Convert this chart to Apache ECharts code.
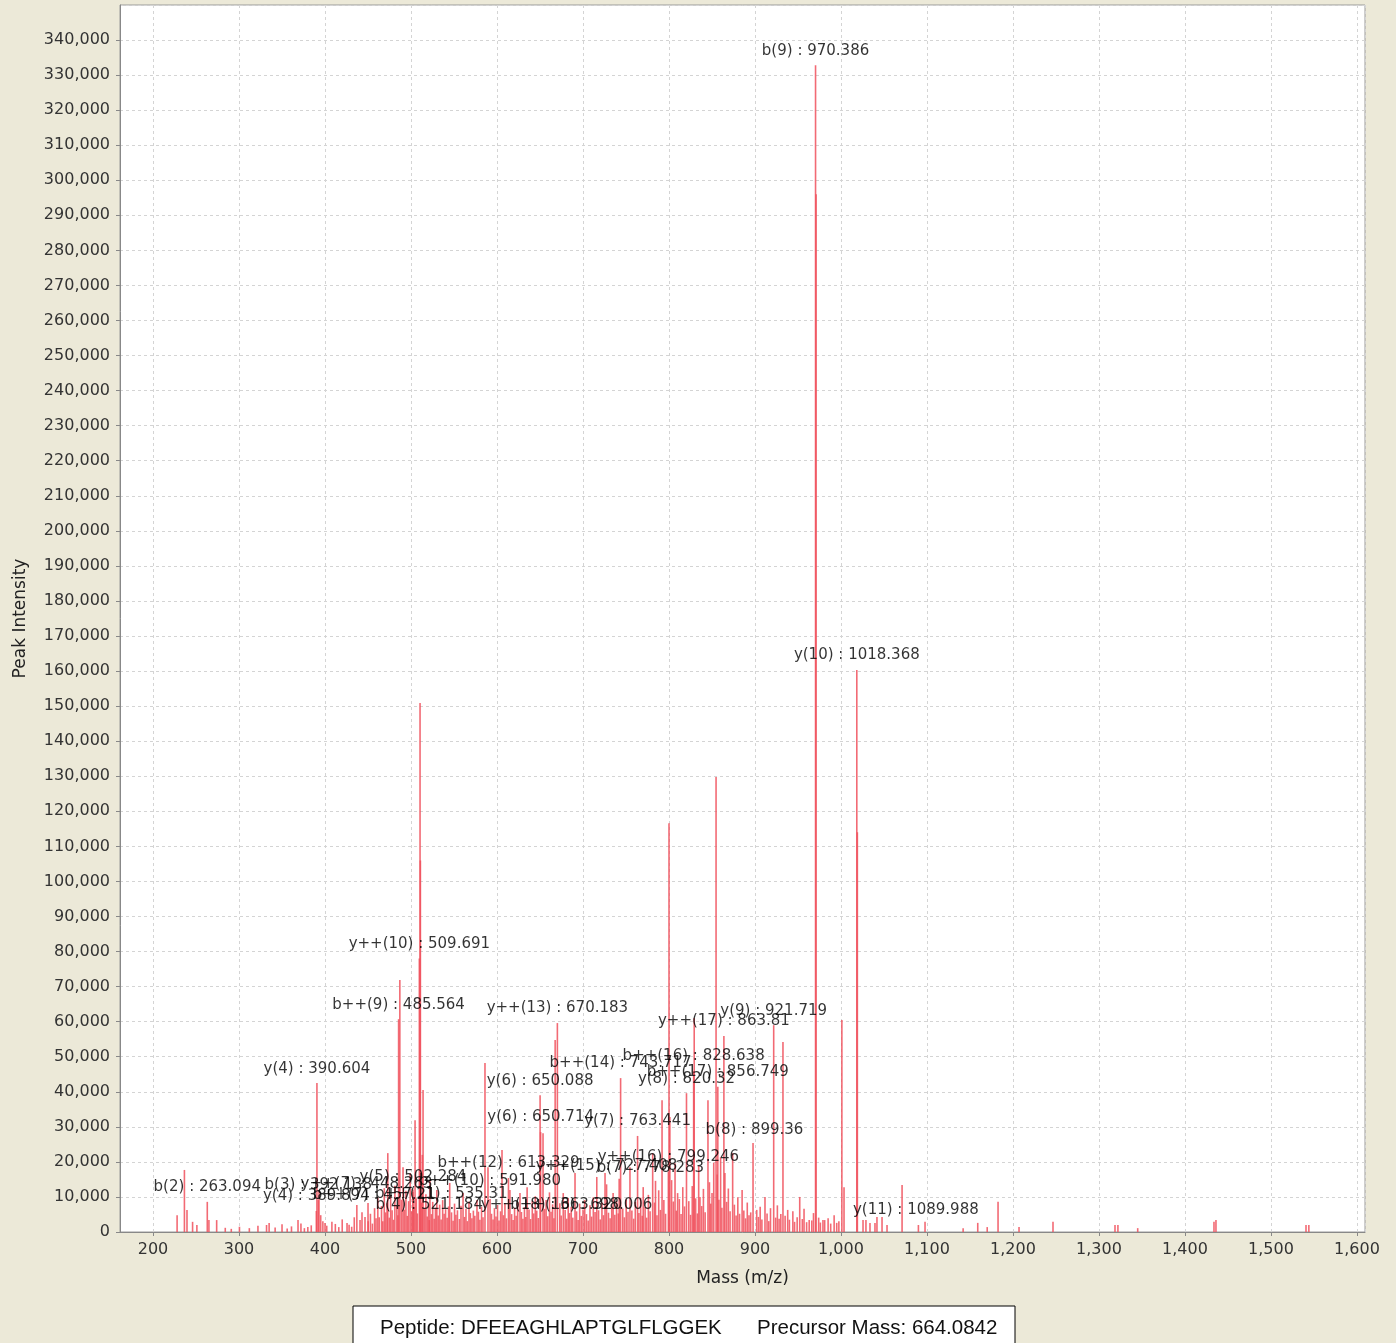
<!DOCTYPE html>
<html>
<head>
<meta charset="utf-8">
<script src="https://cdn.jsdelivr.net/npm/echarts@6/dist/echarts.min.js"></script>
<style>
html,body{margin:0;padding:0;background:#ECE9D8;}
#chart{width:1396px;height:1343px;}
</style>
</head>
<body>
<div id="chart"></div>
<script>
// ---- Data (m/z, intensity) ----
const peakMz = [228,236.5,239.5,246,251,263.1,265,274,284,291,300.5,312,322,332,335,342,350,356,361,368.6,372,376,380,384,
389.9,390.6,392.14,393,395,397.5,400,402,408,412,416,420,425.6,428,431,434,437,440.7,443,446.5,450,
473,485.56,487,490.7,499,502.28,504.7,509.69,510.5,510.9,514,521.18,522,530,545,560.5,576.7,586,589.5,605.8,615,626.7,635,
650.09,650.71,653.5,667.6,670.18,677,690.7,702,716,725.6,735,743.72,754.6,763.44,770,781,791.9,799.25,800,801,810,820.32,
828.64,829.3,836,845.3,850,854.7,856.75,863.81,865,874,885,897.7,902,911.6,921.72,932.5,938,952,963,970.39,971.0,979,981,
1001,1003.5,1018.37,1019.0,1025.6,1029,1033.7,1039.5,1041.8,1047.7,1053.5,1071,1089.99,1097.7,1142,1159,1170,1182.6,1207,
1246.5,1318.6,1322,1345,1433.7,1436,1540.7,1544];
const peakInt = [4800,17700,6300,2900,2000,8600,3400,3400,1200,900,1500,1100,1800,2000,2600,1300,2200,1000,1600,3400,2400,1100,1400,1900,
6000,42500,9100,12000,4800,3100,2600,1800,2900,2300,1400,3600,2600,2100,1500,4200,7700,3400,5600,4300,8300,
22500,60700,71900,18500,16800,11400,31900,78000,150900,106000,40500,3400,14800,12000,14000,11100,9100,48200,18500,23400,12000,11100,12800,
39000,28500,28200,54800,59600,11100,16800,9100,15700,16800,11100,43900,18500,27400,12800,22500,37600,17100,116600,32800,11100,39600,
45900,61000,10000,37600,11100,129800,41400,55900,16800,22500,12000,25400,6300,10000,59000,54200,6300,10000,3400,332800,296000,3400,3400,
60500,12800,160300,114000,3400,3400,2600,2600,4300,4300,2000,13400,2000,2900,1100,2600,1400,8600,1400,
2900,2000,2000,1100,2900,3400,2000,2000];

// dense low-intensity peaks
const minorMz = [450.2,452.8,455.1,457.6,459.3,461.4,463.0,465.7,467.2,468.9,470.5,472.1,474.8,476.3,478.0,479.6,481.2,483.5,484.7,488.9,
492.3,494.1,495.6,497.2,500.8,502.3,503.5,506.1,507.4,512.2,513.1,515.6,517.3,518.8,520.4,523.7,525.2,526.9,528.4,531.6,533.3,535.0,
536.8,538.5,540.2,542.0,543.7,547.1,548.9,550.6,552.2,554.0,556.3,558.1,562.2,563.9,565.5,567.4,569.0,570.8,572.5,574.2,578.4,580.1,
582.0,583.7,591.9,593.6,595.4,597.0,598.8,600.6,602.3,604.1,607.5,609.2,611.0,613.3,617.0,618.7,620.4,622.2,624.0,628.4,630.1,631.9,
633.5,637.2,639.0,641.0,642.7,644.5,646.2,648.0,655.3,657.1,659.0,661.0,662.8,664.6,666.2,673.0,674.6,679.2,681.0,682.8,684.5,686.3,
688.1,692.5,694.3,696.1,698.0,700.0,704.0,706.0,708.1,710.0,712.0,714.0,718.1,720.0,722.0,723.8,727.4,729.6,731.5,733.4,737.0,739.0,
741.0,742.05,746.2,748.1,750.2,752.3,756.8,758.9,760.8,765.0,767.0,768.8,772.2,774.0,776.0,778.0,783.1,784.3,786.0,788.0,790.0,794.0,
796.0,803.0,805.0,807.0,808.5,812.0,814.0,816.0,818.0,823.0,825.0,827.0,831.0,833.0,834.5,838.0,840.0,842.0,847.0,848.5,852.0,856.0,
858.0,860.0,861.5,867.0,869.0,871.0,876.0,878.0,880.0,882.0,887.0,889.0,891.0,893.0,895.0,904.0,906.0,908.0,914.0,916.0,918.0,924.0,
926.0,928.0,930.0,935.0,940.0,944.0,946.0,949.0,955.0,957.0,960.0,966.0,968.0,974.0,976.0,985.0,988.0,992.0,995.0,997.5];
const minorInt = [3100,5200,2400,6800,3900,9800,4200,7400,3100,12500,5600,8200,4100,10400,6200,3500,13200,7600,4800,9200,
6400,11800,4600,8800,5900,12100,7100,9600,5300,8400,22000,6700,10800,4400,7900,5100,8600,3800,6900,4700,7800,3600,
9100,5200,6500,4100,7300,5600,3200,8100,4900,6200,3700,7500,4300,6600,3100,8700,5400,3900,6100,4600,5800,3500,
7200,4200,9400,5200,3600,6800,4400,7700,3300,5900,4800,8300,3900,15400,5100,3400,6900,4600,8500,5700,3800,7100,
4300,6400,3700,8900,5300,10200,6100,4000,6600,9100,4500,11300,5800,7900,3900,8200,4700,6300,3800,9700,5400,7200,
4100,5900,3400,8100,4600,6400,5100,3300,7600,4400,9900,5700,6200,3600,8400,4800,13600,5500,3900,7300,4900,8800,
5300,15200,6700,4200,9300,5800,6100,3800,8600,5400,9800,4600,7100,4100,10600,5900,8400,14600,4800,11900,6300,9100,
5200,14800,8700,19600,6100,9400,5100,12800,7300,8800,4900,13100,9600,5300,18900,7400,12300,5600,14200,8100,19800,16400,
9200,21300,6900,8600,12400,5900,7800,4700,9900,5200,6100,3900,8400,4800,5600,4300,7200,3600,5300,3100,6800,4100,
7600,3800,5100,4600,3500,5900,2900,4200,3700,6600,2800,3300,5400,4100,2700,3900,2400,4800,2600,3100];

// annotations
const annoText = ["b(9) : 970.386","y(10) : 1018.368","y++(10) : 509.691","b++(9) : 485.564","y++(13) : 670.183","y(9) : 921.719",
"y++(17) : 863.81","b++(16) : 828.638","b++(14) : 743.717","b++(17) : 856.749","y(4) : 390.604","y(6) : 650.088","y(8) : 820.32",
"y(6) : 650.714","y(7) : 763.441","b(8) : 899.36","y++(16) : 799.246","b++(12) : 613.329","y++(15) : 727.408","b(7) : 778.283",
"b(2) : 263.094","b(3) : 392.138","y++(7) : 448.263","y(4) : 389.894","y(5) : 502.284","b++(10) : 591.980","b++(7) : 457.21",
"b++(11) : 535.31","b(4) : 521.184","y++(18) : 663.320","b++(13) : 698.006","y(11) : 1089.988"];
const annoMz = [970.386,1018.368,509.691,485.564,670.183,921.719,863.81,828.638,743.717,856.749,390.604,650.088,820.32,
650.714,763.441,899.36,799.246,613.329,727.408,778.283,263.094,392.138,448.263,389.894,502.284,591.980,457.21,535.31,521.184,
663.320,698.006,1087.0];
const annoInt = [332800,160300,78000,60700,59600,59000,55900,45900,43900,41400,42200,39000,39600,28500,27400,24800,17100,15400,
14600,14200,8600,9100,9400,6000,11400,10500,6400,6600,3400,3600,3400,2000];

const peakData = peakMz.map((m,i)=>[m,peakInt[i]]).concat(minorMz.map((m,i)=>[m,minorInt[i]]));
const annoData = annoText.map((t,i)=>({name:t,value:[annoMz[i],annoInt[i]]}));

const chart = echarts.init(document.getElementById('chart'), null, {renderer:'canvas'});
const tickFont = {fontFamily:'DejaVu Sans', fontSize:16, color:'#333'};
chart.setOption({
  backgroundColor:'#ECE9D8',
  animation:false,
  grid:{left:120,right:31,top:5,bottom:111,show:true,backgroundColor:'#ffffff',borderColor:'#9a9a9a',borderWidth:1,
        containLabel:false,outerBoundsMode:'none'},
  xAxis:{type:'value',min:161.6,max:1609.3,splitNumber:14,
    name:'Mass (m/z)',nameLocation:'middle',nameGap:38,
    nameTextStyle:{fontFamily:'DejaVu Sans',fontSize:17,color:'#222'},
    axisLine:{show:true,onZero:false,lineStyle:{color:'#888'}},
    axisTick:{show:true,length:4,lineStyle:{color:'#888'}},
    axisLabel:Object.assign({margin:10,showMinLabel:false,showMaxLabel:false,
      formatter:v=> (Math.abs(v%100)<1e-6 ? echarts.format.addCommas(v) : '')},tickFont),
    splitLine:{show:true,lineStyle:{color:'#d4d4d4',type:[3,3]}}
  },
  yAxis:{type:'value',min:0,max:350000,interval:10000,
    name:'Peak Intensity',nameLocation:'middle',nameGap:91,
    nameTextStyle:{fontFamily:'DejaVu Sans',fontSize:17,color:'#222'},
    axisLine:{show:true,lineStyle:{color:'#888'}},
    axisTick:{show:true,length:4,lineStyle:{color:'#888'}},
    axisLabel:Object.assign({margin:10,showMaxLabel:false},tickFont),
    splitLine:{show:true,lineStyle:{color:'#d4d4d4',type:[3,3]}}
  },
  series:[
    {type:'custom',data:peakData,clip:true,
     renderItem:function(params,api){
       const x=api.value(0), y=api.value(1);
       const p0=api.coord([x,0]), p1=api.coord([x,y]);
       return {type:'line',shape:{x1:p0[0],y1:p0[1],x2:p1[0],y2:p1[1]},
         style:{stroke:'rgba(240,80,92,0.85)',lineWidth:1.6}};
     }},
    {type:'scatter',data:annoData,symbolSize:0,silent:true,
     label:{show:true,position:'top',distance:7,formatter:p=>p.name,
       fontFamily:'DejaVu Sans',fontSize:15,color:'#000'},
     labelLayout:{hideOverlap:false}}
  ],
  graphic:[
    {type:'rect',shape:{x:353,y:1306,width:662,height:50},style:{fill:'#ffffff',stroke:'#000',lineWidth:1}},
    {type:'text',x:380,y:1328,style:{text:'Peptide: DFEEAGHLAPTGLFLGGEK',fontFamily:'Liberation Sans',fontSize:20.5,fill:'#111',textVerticalAlign:'middle'}},
    {type:'text',x:757,y:1328,style:{text:'Precursor Mass: 664.0842',fontFamily:'Liberation Sans',fontSize:20.5,fill:'#111',textVerticalAlign:'middle'}}
  ]
});
</script>
</body>
</html>
